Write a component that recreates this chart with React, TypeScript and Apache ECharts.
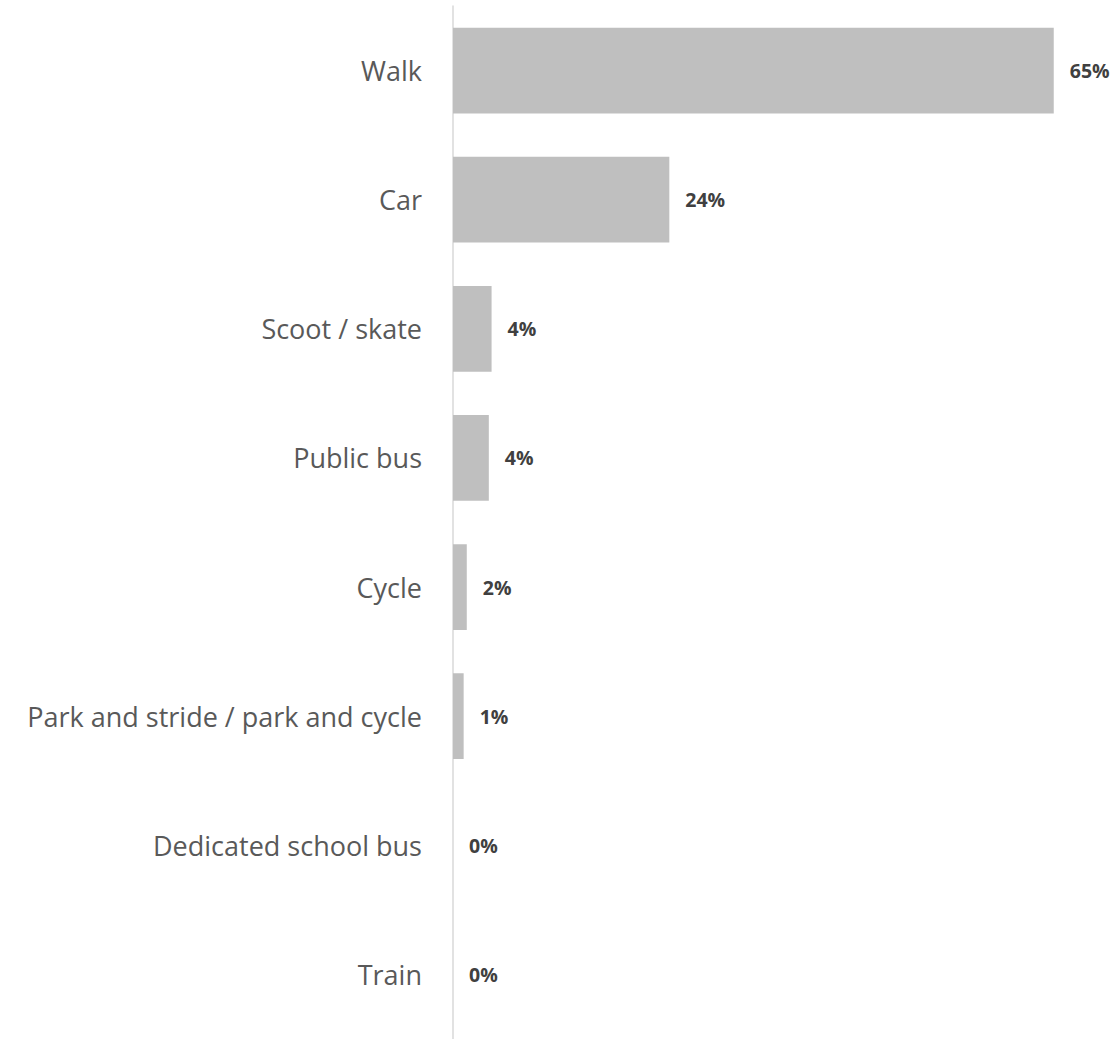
import React, { useEffect, useRef } from "react";
import * as echarts from "echarts";

const categories = [
  "Walk",
  "Car",
  "Scoot / skate",
  "Public bus",
  "Cycle",
  "Park and stride / park and cycle",
  "Dedicated school bus",
  "Train",
];
const values = [65.4, 23.55, 4.2, 3.9, 1.5, 1.16, 0, 0];

export default function App() {
  const ref = useRef<HTMLDivElement>(null);
  useEffect(() => {
    if (!ref.current) return;
    const chart = echarts.init(ref.current, undefined, { renderer: "svg" });
    chart.setOption({
      animation: false,
      backgroundColor: "#ffffff",
      grid: { left: 453, right: 23, top: 6, bottom: -3, containLabel: false },
      xAxis: {
        type: "value",
        min: 0,
        max: 70,
        show: false,
      },
      yAxis: {
        type: "category",
        data: categories,
        inverse: true,
        axisLine: { show: true, lineStyle: { color: "#d9d9d9", width: 1.5 } },
        axisTick: { show: false },
        splitLine: { show: false },
        axisLabel: {
          margin: 31,
          fontFamily: "Open Sans",
          fontSize: 27,
          color: "#595959",
        },
      },
      series: [
        {
          type: "bar",
          data: values,
          barCategoryGap: "33.5%",
          itemStyle: { color: "#bfbfbf" },
          label: {
            show: true,
            position: "right",
            distance: 16,
            fontFamily: "Open Sans",
            fontWeight: "bold",
            fontSize: 19.5,
            color: "#404040",
            formatter: (p: any) => Math.round(p.value) + "%",
          },
        },
      ],
    });
    return () => chart.dispose();
  }, []);
  return (
    <div
      ref={ref}
      style={{ position: "absolute", left: 0, top: 0, width: 1119, height: 1039 }}
    />
  );
}
